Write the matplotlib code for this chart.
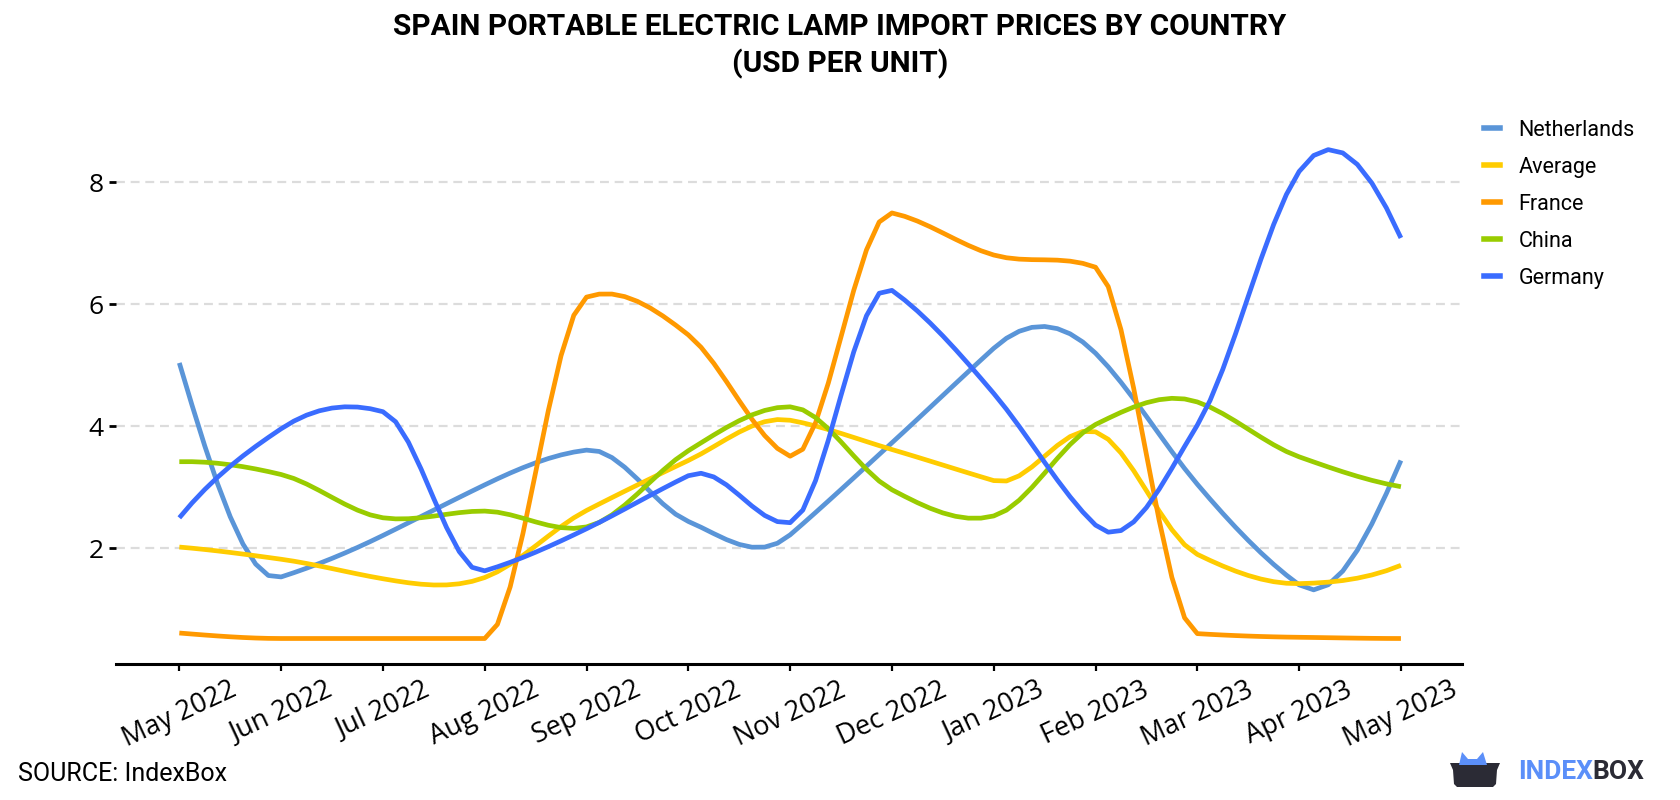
import numpy as np
import matplotlib
matplotlib.use("Agg")
import matplotlib.pyplot as plt
from matplotlib.lines import Line2D
from matplotlib.patches import Polygon

# ---------------- data ----------------
months = ["May 2022", "Jun 2022", "Jul 2022", "Aug 2022", "Sep 2022", "Oct 2022",
          "Nov 2022", "Dec 2022", "Jan 2023", "Feb 2023", "Mar 2023", "Apr 2023",
          "May 2023"]
netherlands = [5.04, 1.53, 2.21, 3.04, 3.61, 2.44, 2.22, 3.73, 5.28, 5.20, 3.05, 1.40, 3.44]
average = [2.02, 1.82, 1.50, 1.52, 2.62, 3.44, 4.10, 3.62, 3.11, 3.91, 1.90, 1.42, 1.72]
france = [0.61, 0.52, 0.52, 0.52, 6.12, 5.50, 3.51, 7.50, 6.81, 6.61, 0.60, 0.54, 0.52]
china = [3.42, 3.21, 2.50, 2.61, 2.35, 3.60, 4.32, 2.96, 2.53, 4.03, 4.40, 3.50, 3.01]
germany = [2.50, 3.96, 4.24, 1.63, 2.32, 3.19, 2.42, 6.23, 4.54, 2.38, 4.02, 8.18, 7.09]

series_names = ["Netherlands", "Average", "France", "China", "Germany"]
series_values = [netherlands, average, france, china, germany]
series_colors = ["#5a95d8", "#ffcc00", "#ff9900", "#99cc00", "#3a6cff"]
yticks = [2, 4, 6, 8]


def akima_curve(y, per_seg=8):
    """Akima-style smooth rendering through the monthly values."""
    y = np.asarray(y, float)
    n = len(y)
    x = np.arange(n, dtype=float)
    m = np.diff(y)
    mm = np.concatenate([[3 * m[0] - 2 * m[1], 2 * m[0] - m[1]], m,
                         [2 * m[-1] - m[-2], 3 * m[-1] - 2 * m[-2]]])
    dm = np.abs(np.diff(mm))
    f1 = dm[2:]
    f2 = dm[:-2]
    ml = mm[1:n + 1]
    mr = mm[2:n + 2]
    den = f1 + f2
    t = np.where(den > 1e-12, (f1 * ml + f2 * mr) / np.where(den > 1e-12, den, 1), 0.5 * (ml + mr))
    xs, ys = [], []
    for i in range(n - 1):
        s = np.linspace(0, 1, per_seg, endpoint=(i == n - 2))
        h00 = 2 * s**3 - 3 * s**2 + 1
        h10 = s**3 - 2 * s**2 + s
        h01 = -2 * s**3 + 3 * s**2
        h11 = s**3 - s**2
        xs.append(x[i] + s)
        ys.append(h00 * y[i] + h10 * t[i] + h01 * y[i + 1] + h11 * t[i + 1])
    return np.concatenate(xs), np.concatenate(ys)


W, H = 1680, 800
fig = plt.figure(figsize=(W / 100, H / 100), dpi=100)
ax = fig.add_axes([116 / W, 1 - 663.5 / H, (1462 - 116) / W, (663.5 - 121.5) / H])

for name, vals, col in zip(series_names, series_values, series_colors):
    xs, ys = akima_curve(vals)
    ax.plot(xs, ys, color=col, lw=3.4, solid_capstyle="butt", solid_joinstyle="round")

ax.set_xlim(-0.622, 12.6)
ax.set_ylim(0.11, 9.0)

for s in ["left", "top", "right"]:
    ax.spines[s].set_visible(False)
ax.spines["bottom"].set_linewidth(2.2)
ax.spines["bottom"].set_color("black")

ax.set_yticks(yticks)
ax.set_yticklabels([str(v) for v in yticks], fontsize=19, family="Open Sans")
ax.set_xticks(range(len(months)))
ax.set_xticklabels(months, fontsize=19.5, family="Open Sans", rotation=25, ha="center")
ax.tick_params(axis="y", length=5, width=2, pad=4, color="black")
ax.tick_params(axis="x", length=5, width=1.6, pad=4, color="black")
ax.yaxis.grid(True, color="#dcdcdc", lw=1.6, ls=(0, (4, 2.6)))
ax.set_axisbelow(True)

handles = [Line2D([0], [0], color=c, lw=4) for c in series_colors]
fig.legend(handles, series_names, loc="upper left", bbox_to_anchor=(1484 / W, 1 - 120 / H),
           frameon=False, prop={"family": "Roboto", "size": 15.5},
           handlelength=0.75, handletextpad=0.85, labelspacing=0.74,
           borderpad=0, borderaxespad=0)

fig.text(0.5, 1 - 27 / H, "SPAIN PORTABLE ELECTRIC LAMP IMPORT PRICES BY COUNTRY",
         ha="center", va="center", fontsize=21.5, fontweight="bold", family="Roboto")
fig.text(0.5, 1 - 64 / H, "(USD PER UNIT)",
         ha="center", va="center", fontsize=21.5, fontweight="bold", family="Roboto")

fig.text(18 / W, 1 - 774 / H, "SOURCE: IndexBox", ha="left", va="center",
         fontsize=18, family="Roboto")

# logo
def px(pts):
    return [(x, H - y) for x, y in pts]

fig.add_artist(Polygon(px([(1450, 763), (1500, 763), (1497, 770), (1496, 784), (1493, 787),
                           (1457, 787), (1454, 784), (1453, 770)]),
                       closed=True, transform=None, facecolor="#2b2b35", edgecolor="none"))
fig.add_artist(Polygon(px([(1459, 765), (1462, 752), (1468, 759), (1477, 759), (1483, 752),
                           (1487, 765)]),
                       closed=True, transform=None, facecolor="#5b8ff9", edgecolor="none"))
t_index = fig.text(1518 / W, 1 - 772 / H, "INDEX", ha="left", va="center", fontsize=19,
                   fontweight="bold", family="Roboto", color="#5b8ff9")
renderer = fig.canvas.get_renderer()
bb = t_index.get_window_extent(renderer)
fig.text(bb.x1 / W, 1 - 772 / H, "BOX", ha="left", va="center", fontsize=19,
         fontweight="bold", family="Roboto", color="#2b2b35")

fig.savefig("out.png", dpi=100)
